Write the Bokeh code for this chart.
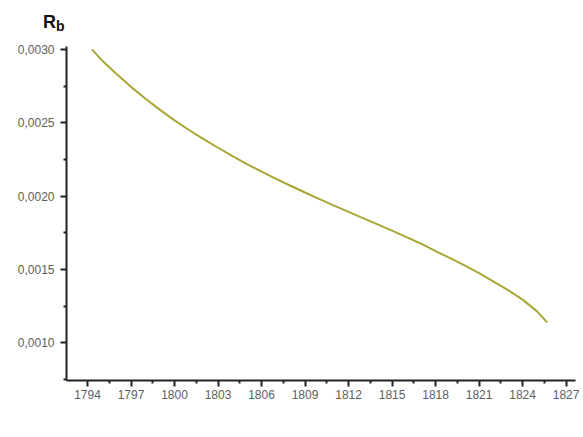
from bokeh.plotting import figure
from bokeh.models import FixedTicker, Range1d, Div
from bokeh.layouts import column
from bokeh.embed import file_html
from bokeh.resources import INLINE

years = [1794.3, 1795, 1796, 1797, 1798, 1799, 1800, 1801, 1802, 1803, 1804,
         1805, 1806, 1807, 1808, 1809, 1810, 1811, 1812, 1813, 1814, 1815,
         1816, 1817, 1818, 1819, 1820, 1821, 1822, 1823, 1824, 1825, 1825.7]
rb = [0.003000, 0.002925, 0.002832, 0.002745, 0.002664, 0.002588, 0.002517,
      0.002451, 0.002389, 0.002330, 0.002273, 0.002219, 0.002167, 0.002118,
      0.002071, 0.002025, 0.001980, 0.001936, 0.001893, 0.001851, 0.001808,
      0.001765, 0.001721, 0.001676, 0.001626, 0.001578, 0.001528, 0.001475,
      0.001418, 0.001360, 0.001295, 0.001215, 0.001140]

x_ticks = [1794, 1797, 1800, 1803, 1806, 1809, 1812, 1815, 1818, 1821, 1824, 1827]
y_ticks = [0.0010, 0.0015, 0.0020, 0.0025, 0.0030]
y_tick_labels = ["0,0010", "0,0015", "0,0020", "0,0025", "0,0030"]

p = figure(width=580, height=397, output_backend="svg", toolbar_location=None,
           x_range=Range1d(1792.55, 1827.65), y_range=Range1d(0.000744, 0.00302),
           min_border_left=66, min_border_right=5, min_border_top=6, min_border_bottom=57)
p.outline_line_color = None
p.grid.visible = False
p.background_fill_color = "white"

p.line(years, rb, line_color="#A9A636", line_width=2)

x_minor = [t + 1.5 for t in x_ticks[:-1]]
p.xaxis.ticker = FixedTicker(ticks=x_ticks, minor_ticks=x_minor)
y_minor = [0.00075, 0.00125, 0.00175, 0.00225, 0.00275]
p.yaxis.ticker = FixedTicker(ticks=y_ticks, minor_ticks=y_minor)
p.yaxis.major_label_overrides = {t: l for t, l in zip(y_ticks, y_tick_labels)}
p.xaxis.major_label_overrides = {t: str(t) for t in x_ticks}

for ax in (p.xaxis, p.yaxis):
    ax.axis_line_color = "#222222"
    ax.axis_line_width = 2
    ax.major_tick_line_color = "#222222"
    ax.major_tick_line_width = 2
    ax.minor_tick_line_color = "#222222"
    ax.minor_tick_line_width = 2
    ax.major_tick_out = 6
    ax.major_tick_in = 0
    ax.minor_tick_out = 3
    ax.minor_tick_in = 0
    ax.major_label_text_font = "Liberation Sans"
    ax.major_label_text_font_size = "12px"
    ax.major_label_text_color = "#5e5e5e"

p.yaxis.major_label_standoff = 6
p.xaxis.major_label_standoff = 3

title_html = (
    '<div style="position:relative;width:580px;height:40px;">'
    '<span style="position:absolute;left:43px;top:12.8px;font-family:\'Liberation Sans\';'
    'font-weight:bold;font-size:18px;line-height:18px;color:#111111;">R</span>'
    '<span style="position:absolute;left:56px;top:19.2px;font-family:\'Liberation Sans\';'
    'font-weight:bold;font-size:14px;line-height:14px;color:#111111;">b</span>'
    '</div>'
)
header = Div(text=title_html, width=580, height=40, margin=(0, 0, 0, 0))

layout = column(header, p, spacing=0)

open("out.html", "w").write(file_html(layout, INLINE))
